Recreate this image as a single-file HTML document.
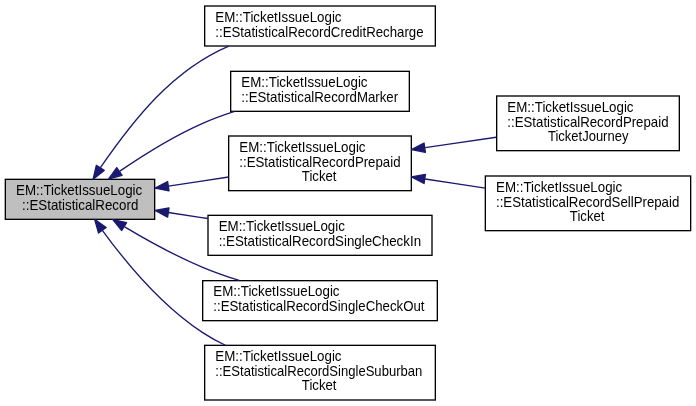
<!DOCTYPE html>
<html><head><meta charset="utf-8">
<style>
html,body{margin:0;padding:0;background:#fff;}
svg{display:block;will-change:transform;}
text{font-family:"Liberation Sans",sans-serif;font-size:13.75px;fill:#000;}
.e{fill:none;stroke:#191970;stroke-width:1.33;}
.a{fill:#191970;stroke:#191970;stroke-width:1.33;stroke-linejoin:round;}
</style></head><body>
<svg width="696" height="406" viewBox="0 0 696 406">
<rect width="696" height="406" fill="#fff"/>
<!-- central -->
<rect x="5.33" y="179.33" width="149.33" height="40.00" fill="#bfbfbf" stroke="#000" stroke-width="1.33"/>
<text x="16.00" y="195.03" textLength="126.2" lengthAdjust="spacingAndGlyphs">EM::TicketIssueLogic</text>
<text x="22" y="210.13" textLength="116.3" lengthAdjust="spacingAndGlyphs">::EStatisticalRecord</text>
<!-- credit -->
<rect x="204.67" y="6.00" width="230.67" height="40.00" fill="#fff" stroke="#000" stroke-width="1.33"/>
<text x="215.34" y="21.70" textLength="126.2" lengthAdjust="spacingAndGlyphs">EM::TicketIssueLogic</text>
<text x="215.34" y="36.80" textLength="208.2" lengthAdjust="spacingAndGlyphs">::EStatisticalRecordCreditRecharge</text>
<!-- marker -->
<rect x="230.67" y="71.33" width="178.67" height="40.00" fill="#fff" stroke="#000" stroke-width="1.33"/>
<text x="241.34" y="87.03" textLength="126.2" lengthAdjust="spacingAndGlyphs">EM::TicketIssueLogic</text>
<text x="241.34" y="102.13" textLength="156.8" lengthAdjust="spacingAndGlyphs">::EStatisticalRecordMarker</text>
<!-- prepaid -->
<rect x="228.67" y="136.00" width="182.67" height="54.67" fill="#fff" stroke="#000" stroke-width="1.33"/>
<text x="239.34" y="151.70" textLength="126.2" lengthAdjust="spacingAndGlyphs">EM::TicketIssueLogic</text>
<text x="239.34" y="166.80" textLength="161.2" lengthAdjust="spacingAndGlyphs">::EStatisticalRecordPrepaid</text>
<text x="301.85" y="181.10" textLength="34.6" lengthAdjust="spacingAndGlyphs">Ticket</text>
<!-- checkin -->
<rect x="208.00" y="215.33" width="224.00" height="40.00" fill="#fff" stroke="#000" stroke-width="1.33"/>
<text x="218.67" y="231.03" textLength="126.2" lengthAdjust="spacingAndGlyphs">EM::TicketIssueLogic</text>
<text x="218.67" y="246.13" textLength="202.4" lengthAdjust="spacingAndGlyphs">::EStatisticalRecordSingleCheckIn</text>
<!-- checkout -->
<rect x="202.67" y="280.67" width="234.67" height="40.00" fill="#fff" stroke="#000" stroke-width="1.33"/>
<text x="213.34" y="296.37" textLength="126.2" lengthAdjust="spacingAndGlyphs">EM::TicketIssueLogic</text>
<text x="213.34" y="311.47" textLength="211.2" lengthAdjust="spacingAndGlyphs">::EStatisticalRecordSingleCheckOut</text>
<!-- suburban -->
<rect x="204.67" y="345.33" width="230.67" height="54.67" fill="#fff" stroke="#000" stroke-width="1.33"/>
<text x="215.34" y="361.03" textLength="126.2" lengthAdjust="spacingAndGlyphs">EM::TicketIssueLogic</text>
<text x="215.34" y="376.13" textLength="207.0" lengthAdjust="spacingAndGlyphs">::EStatisticalRecordSingleSuburban</text>
<text x="301.85" y="390.43" textLength="34.6" lengthAdjust="spacingAndGlyphs">Ticket</text>
<!-- journey -->
<rect x="496.67" y="96.00" width="182.67" height="54.67" fill="#fff" stroke="#000" stroke-width="1.33"/>
<text x="507.34" y="111.70" textLength="126.2" lengthAdjust="spacingAndGlyphs">EM::TicketIssueLogic</text>
<text x="507.34" y="126.80" textLength="161.2" lengthAdjust="spacingAndGlyphs">::EStatisticalRecordPrepaid</text>
<text x="548.00" y="141.10" textLength="80.4" lengthAdjust="spacingAndGlyphs">TicketJourney</text>
<!-- sell -->
<rect x="485.33" y="176.00" width="205.33" height="54.67" fill="#fff" stroke="#000" stroke-width="1.33"/>
<text x="496.00" y="191.70" textLength="126.2" lengthAdjust="spacingAndGlyphs">EM::TicketIssueLogic</text>
<text x="496.00" y="206.80" textLength="183.3" lengthAdjust="spacingAndGlyphs">::EStatisticalRecordSellPrepaid</text>
<text x="569.85" y="221.10" textLength="34.6" lengthAdjust="spacingAndGlyphs">Ticket</text>
<!-- edges -->
<path class="e" d="M100.40,167.67 C134.13,118.87 172.75,69.93 228.80,46.10"/>
<polygon class="a" points="104.20,170.39 93.12,179.15 96.32,165.39"/>
<path class="e" d="M119.84,171.16 C142.93,155.32 173.41,136.20 202.67,123.33 212.80,118.88 223.71,114.89 234.64,111.37"/>
<polygon class="a" points="122.09,175.28 108.48,179.09 116.75,167.63"/>
<path class="e" d="M168.47,186.12 C188.07,183.15 208.91,179.99 228.63,176.99"/>
<polygon class="a" points="169.01,190.76 155.12,188.15 167.61,181.52"/>
<path class="e" d="M168.32,212.53 C181.20,214.48 194.61,216.52 207.89,218.53"/>
<polygon class="a" points="167.61,217.15 155.12,210.52 169.01,207.91"/>
<path class="e" d="M124.67,226.85 C147.28,240.36 175.77,256.11 202.67,267.33 214.27,272.17 226.80,276.57 239.20,280.48"/>
<polygon class="a" points="121.73,230.52 112.76,219.61 126.57,222.55"/>
<path class="e" d="M102.53,230.52 C124.41,260.55 161.13,305.32 202.67,332.67 210.13,337.59 218.28,341.97 225.90,345.50"/>
<polygon class="a" points="98.56,232.99 94.63,219.41 106.16,227.57"/>
<path class="e" d="M425.19,147.60 C448.65,144.17 473.40,140.57 496.27,137.24"/>
<polygon class="a" points="425.40,152.28 411.53,149.59 424.05,143.05"/>
<path class="e" d="M425.08,178.97 C444.88,181.96 465.59,185.08 485.32,188.05"/>
<polygon class="a" points="424.03,183.53 411.53,176.93 425.41,174.31"/>
</svg>
</body></html>
